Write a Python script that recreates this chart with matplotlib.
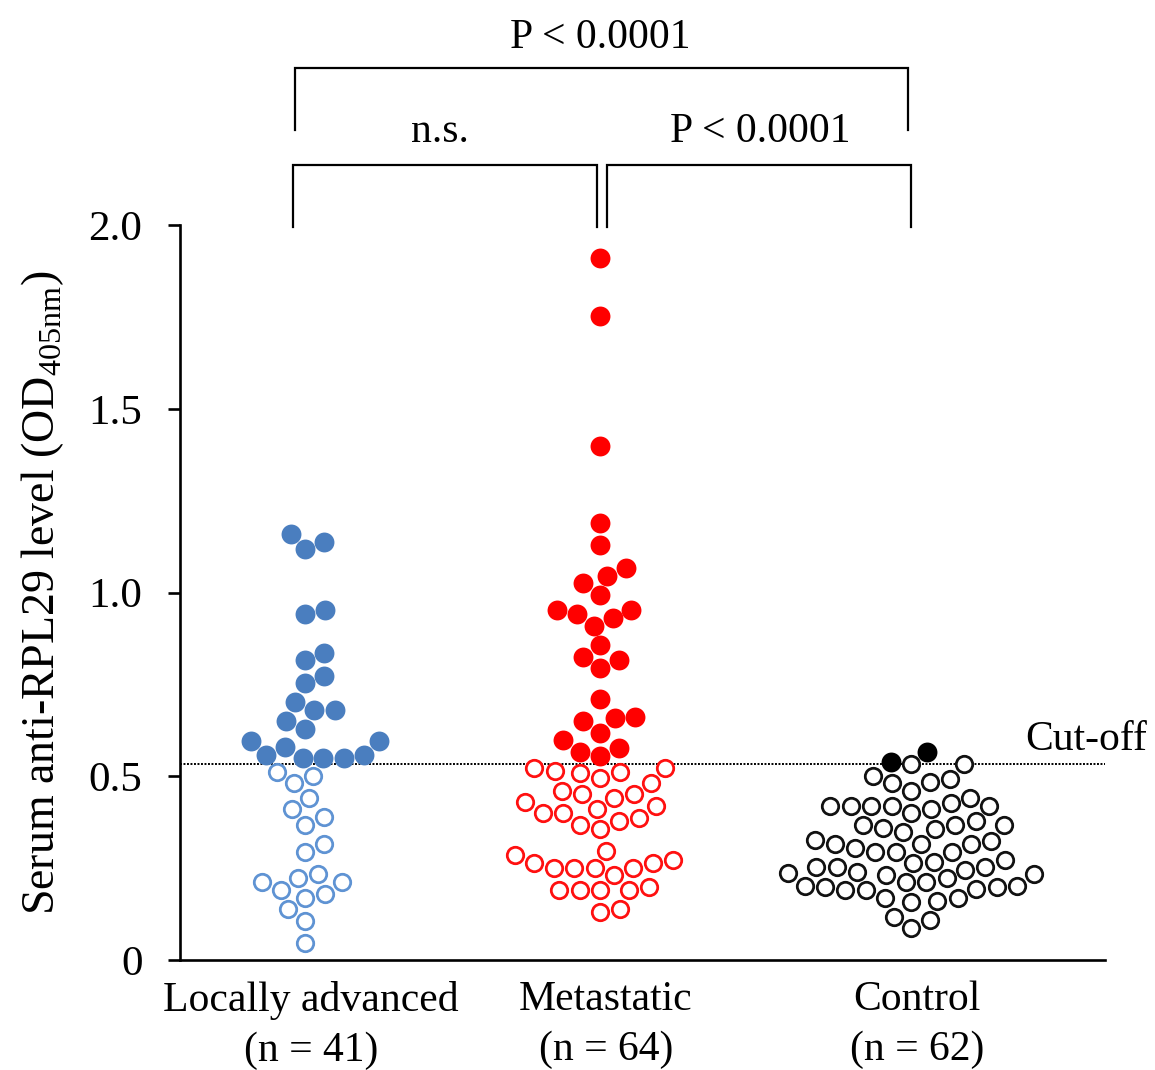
import numpy as np
import matplotlib
matplotlib.use('Agg')
import matplotlib.pyplot as plt

plt.rcParams['font.family'] = ['Liberation Serif', 'DejaVu Serif']
plt.rcParams['mathtext.fontset'] = 'custom'
plt.rcParams['mathtext.rm'] = 'Liberation Serif'

# data (OD405nm)
group_labels = ['Locally advanced\n(n = 41)', 'Metastatic\n(n = 64)', 'Control\n(n = 62)']
cutoff = 0.533

la_pos = [1.159, 1.118, 1.138, 0.952, 0.941, 0.836, 0.816, 0.773, 0.753, 0.701, 0.679,
          0.679, 0.649, 0.629, 0.597, 0.597, 0.579, 0.558, 0.558, 0.550, 0.549, 0.550]
la_neg = [0.501, 0.511, 0.481, 0.442, 0.410, 0.388, 0.367, 0.315, 0.295, 0.211, 0.211,
          0.233, 0.222, 0.190, 0.170, 0.180, 0.138, 0.107, 0.045]

met_pos = [1.909, 1.752, 1.399, 1.190, 1.128, 1.066, 1.045, 1.025, 0.993, 0.941, 0.952,
           0.952, 0.930, 0.909, 0.856, 0.825, 0.816, 0.794, 0.710, 0.658, 0.660, 0.649,
           0.619, 0.599, 0.576, 0.555, 0.567]
met_neg = [0.522, 0.508, 0.511, 0.522, 0.513, 0.494, 0.481, 0.461, 0.442, 0.451, 0.451,
           0.429, 0.419, 0.411, 0.399, 0.387, 0.399, 0.378, 0.367, 0.356, 0.297, 0.286,
           0.272, 0.251, 0.231, 0.251, 0.263, 0.251, 0.263, 0.251, 0.190, 0.190, 0.199,
           0.190, 0.190, 0.130, 0.139]

ctl_pos = [0.540, 0.567]
ctl_neg = [0.501, 0.481, 0.492, 0.419, 0.419, 0.442, 0.419, 0.426, 0.356, 0.367, 0.367,
           0.367, 0.317, 0.295, 0.317, 0.304, 0.295, 0.236, 0.231, 0.254, 0.254, 0.240,
           0.245, 0.190, 0.202, 0.202, 0.193, 0.168, 0.161, 0.118, 0.109,
           0.483, 0.460, 0.532, 0.532, 0.419, 0.399, 0.419, 0.378, 0.411, 0.358, 0.347,
           0.317, 0.324, 0.327, 0.295, 0.265, 0.268, 0.272, 0.254, 0.199, 0.213, 0.213,
           0.233, 0.222, 0.199, 0.190, 0.159, 0.170, 0.088]

fill_cols = ['#4a7ebf', '#ff0000', '#000000']
ring_cols = ['#5f93d3', '#ff1010', '#111111']
centers = [125, 420, 731]


def swarm(yp, d):
    # simple beeswarm, everything in pixels
    xs = np.zeros(len(yp))
    placed = []
    for i in np.argsort(yp):
        y = yp[i]
        near = [(px, py) for px, py in placed if abs(py - y) < d]
        cands = [0.0]
        for px, py in near:
            dx = np.sqrt(d ** 2 - (py - y) ** 2)
            cands += [px - dx, px + dx]
        cands.sort(key=lambda c: (round(abs(c), 3), -c if len(placed) % 2 else c))
        for c in cands:
            if all((c - px) ** 2 + (y - py) ** 2 >= d ** 2 - 1e-6 for px, py in near):
                xs[i] = c
                break
        placed.append((xs[i], y))
    return xs


fig = plt.figure(figsize=(11.55, 10.7), dpi=100)
ax = fig.add_axes([180 / 1155, 110 / 1070, 925 / 1155, 735 / 1070])
ax.set_xlim(0, 925)
ax.set_ylim(0, 2.0)
px_per_unit = 735 / 2.0

data = [(la_pos, la_neg), (met_pos, met_neg), (ctl_pos, ctl_neg)]
for k, (pos, neg) in enumerate(data):
    vals = np.array(pos + neg)
    xo = swarm(vals * px_per_unit, 20.5)
    n = len(pos)
    ax.scatter(centers[k] + xo[:n], vals[:n], s=205, color=fill_cols[k], lw=0,
               clip_on=False, zorder=3)
    ax.scatter(centers[k] + xo[n:], vals[n:], s=140, facecolor='white',
               edgecolor=ring_cols[k], lw=2.0, clip_on=False, zorder=3)

ax.axhline(cutoff, color='black', ls=(0, (1, 0.8)), lw=1.4, zorder=2)
ax.text(845, 0.6, 'Cut-off', fontsize=30, ha='left', va='center', clip_on=False)

# significance brackets
def bracket(x0, x1, ytop, ybot):
    ax.plot([x0, x0, x1, x1], [ybot, ytop, ytop, ybot], color='black', lw=1.6,
            clip_on=False, solid_joinstyle='miter')

bracket(115, 728, 2.427, 2.259)
bracket(113, 417, 2.163, 1.995)
bracket(427, 731, 2.163, 1.995)
ax.text(420, 2.509, 'P < 0.0001', fontsize=30, ha='center', va='center')
ax.text(260, 2.253, 'n.s.', fontsize=30, ha='center', va='center')
ax.text(580, 2.253, 'P < 0.0001', fontsize=30, ha='center', va='center')

ax.spines['top'].set_visible(False)
ax.spines['right'].set_visible(False)
ax.spines['left'].set_linewidth(1.9)
ax.spines['bottom'].set_linewidth(1.9)

ax.set_yticks([0, 0.5, 1.0, 1.5, 2.0], ['0', '0.5', '1.0', '1.5', '2.0'])
ax.tick_params(axis='y', length=9, width=1.9, direction='out', pad=18, labelsize=31)
ax.set_xticks([c + 6 for c in centers], group_labels)
ax.tick_params(axis='x', length=0, pad=15, labelsize=30)
for t in ax.get_xticklabels():
    t.set_linespacing(1.38)

ax.set_ylabel('Serum anti-RPL29 level (OD$_{\\mathrm{405nm}}$)', fontsize=33, labelpad=16)

fig.savefig('out.png', dpi=100)
